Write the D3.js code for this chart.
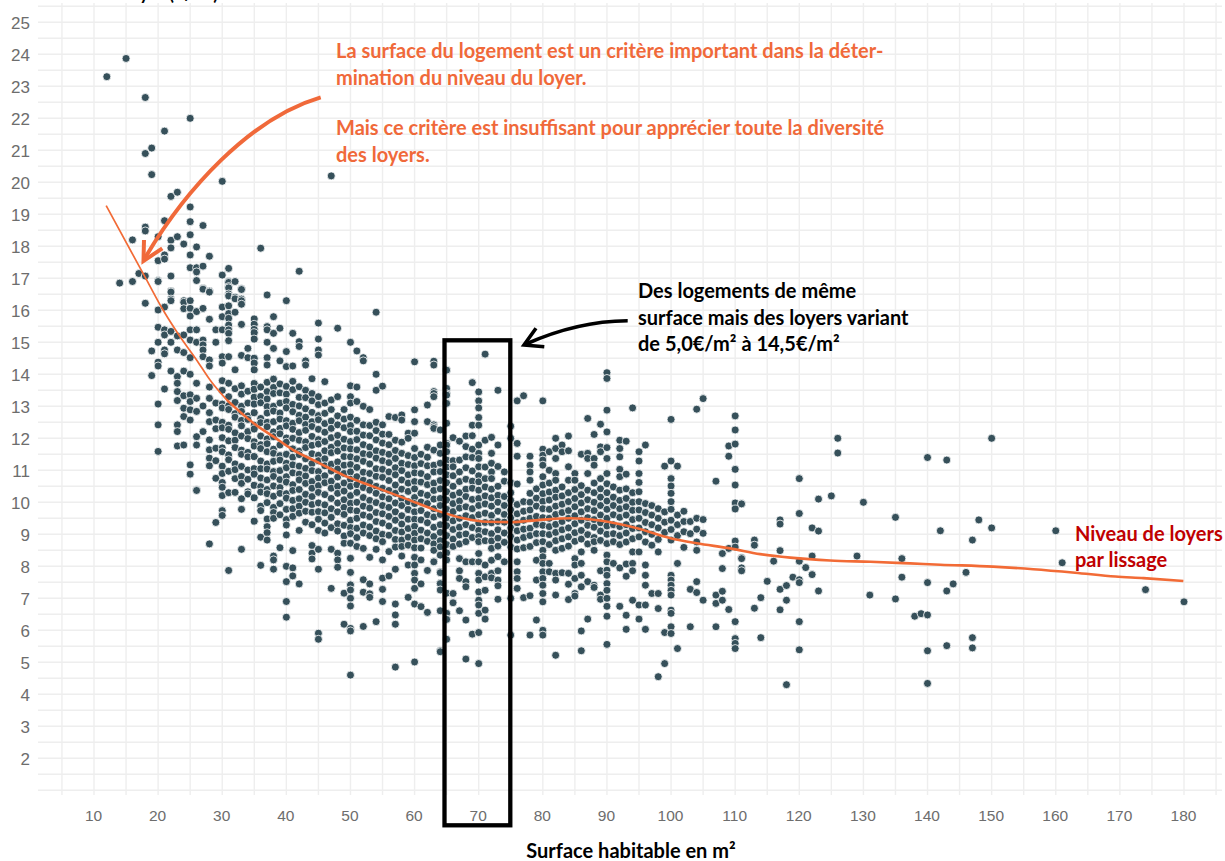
<!DOCTYPE html>
<html><head><meta charset="utf-8">
<script src="https://cdn.jsdelivr.net/npm/d3@7"></script>
<style>html,body{margin:0;padding:0;background:#fff}svg{display:block}</style>
</head><body><svg id="c" width="1225" height="861"></svg>
<script>
const xTickLabels=[10,20,30,40,50,60,70,80,90,100,110,120,130,140,150,160,170,180];
const yTickLabels=[2,3,4,5,6,7,8,9,10,11,12,13,14,15,16,17,18,19,20,21,22,23,24,25];
const xGrid=[5,10,15,20,25,30,35,40,45,50,55,60,65,70,75,80,85,90,95,100,105,110,115,120,125,130,135,140,145,150,155,160,165,170,175,180,185];
const yGrid=[1,1.5,2,2.5,3,3.5,4,4.5,5,5.5,6,6.5,7,7.5,8,8.5,9,9.5,10,10.5,11,11.5,12,12.5,13,13.5,14,14.5,15,15.5,16,16.5,17,17.5,18,18.5,19,19.5,20,20.5,21,21.5,22,22.5,23,23.5,24,24.5,25,25.5];
const surfaces=[12,14,15,16,17,18,19,20,21,22,23,24,25,26,27,28,29,30,31,32,33,34,35,36,37,38,39,40,41,42,43,44,45,46,47,48,49,50,51,52,53,54,55,56,57,58,59,60,61,62,63,64,65,66,67,68,69,70,71,72,73,74,75,76,77,78,79,80,81,82,83,84,85,86,87,88,89,90,91,92,93,94,95,96,97,98,99,100,101,102,103,104,105,107,108,109,110,111,113,114,115,116,117,118,119,120,121,122,123,125,126,129,130,131,135,136,138,139,140,142,143,144,146,147,148,150,160,161,174,180];
const loyers=[
[23.3],[16.85],[23.87],[18.2,16.9],[17.15],[22.65,20.9,18.6,18.48,17.07,16.22],[21.07,20.24,14.73,13.96],
[18.3,17.55,16.93,16.9,16.01,15.47,15.0,14.38,14.26,13.07,12.42,11.59],
[21.6,18.8,17.73,17.6,16.1,15.39,15.23,14.76,14.64,13.54],
[19.56,18.19,17.95,17.07,16.6,16.57,16.35,16.3,15.34,15.0,14.1],
[19.69,18.3,15.2,14.76,13.93,13.72,13.46,13.18,12.42,12.21,11.76],
[18.07,16.3,16.25,16.05,15.23,14.68,14.1,13.33,12.94,12.68,11.79],
[22,19.23,18.77,18.36,17.73,17.33,16.3,16.06,15.82,15.39,15.07,14.52,14,13.36,13.15,12.89,12.57,11.17,10.88],
[17.98,17.33,17.2,16.93,15.96,15.39,15,13.72,13.25,12.84,12.05,11.79,10.39,10.37],
[18.65,17.38,16.69,16.66,16.06,15.07,14.92,14.76,14.55,13.01,12.21],
[17.69,16.6,16.57,15.72,14.45,14.26,13.6,13.25,12.8,12.52,11.95,11.64,11.38,11.14,8.7],
[15.39,15,13.1,12.57,12.3,11.69,11.3,10.75,9.37],
[20.03,17.1,16.1,15.8,15.39,14.55,14.35,13.8,13.5,13.07,12.95,12.5,12.33,12.02,11.7,11.58,11.13,10.9,10.62,10.47,10.21,9.74,9.59],
[17.31,16.9,16.87,16.74,16.7,16.51,16.45,16.14,15.9,15.75,15.54,15.39,15.28,15.05,14.55,13.72,13.3,13.02,12.9,12.41,12.28,11.92,11.48,11.33,10.97,10.3,7.87],
[16.9,16.41,16.36,15.94,14.14,13.55,13.12,12.77,12.66,12.17,11.94,11.71,11.2,11.02,10.74,10.31],
[16.67,16.65,16.35,16.3,16.19,15.56,14.59,13.64,13.38,13,12.84,12.56,12.39,12.07,11.63,11.5,11.12,10.81,10.59,10.11,9.78,8.53],
[14.81,14.52,13.47,13.1,12.7,12.59,12.21,11.99,11.56,11.42,11.01,10.72,10.33,10.26],
[15.73,15.56,15.4,15.3,15.1,14.5,14.35,14.14,13.71,13.53,13.28,13.07,12.8,12.41,12.29,11.89,11.76,11.43,11.05,10.88,10.53,10.14,9.41],
[17.94,13.6,13.31,13.11,12.62,12.49,12.07,11.8,11.68,11.29,11.05,10.76,10.49,10.32,9.88,9.74,8.91,8.03],
[16.48,15.49,15.39,15,14.52,14.29,13.75,13.46,13.23,12.99,12.79,12.5,12.36,11.98,11.83,11.58,11.2,11.04,10.7,10.4,10.27,9.99,9.48,9.24,9.05,8.82],
[15.8,15.28,14.81,13.85,13.59,13.4,13,12.85,12.52,12.2,12.05,11.66,11.53,11.28,10.96,10.81,10.51,10.19,9.84,9.68,9.5,8.32,8.2,7.91],
[15.44,14.42,13.7,13.42,13.1,12.79,12.6,12.31,12.14,11.79,11.46,11.32,10.99,10.71,10.46,10.28,9.96,9.61,8.58],
[16.3,14.71,14.24,13.62,13.38,13.15,12.95,12.55,12.39,12.01,11.88,11.5,11.22,11.08,10.8,10.63,10.27,10.13,9.78,9.46,9.29,8.98,8,7.52,6.9,6.41],
[15.28,14.26,13.78,13.52,13.06,12.83,12.47,12.28,12,11.67,11.41,11.17,10.92,10.55,10.37,10.06,9.8,9.56,8.49,7.95,7.7],
[17.22,15.02,14.87,13.61,13.28,13.01,12.72,12.55,12.18,11.94,11.6,11.49,11.13,10.88,10.7,10.4,10.11,9.88,9.66,9.12,7.45],
[14.42,14.29,13.5,13.27,12.92,12.66,12.43,12.25,11.89,11.71,11.36,11.06,10.82,10.59,10.25,10,9.72,9.38],
[13.86,13.4,13.17,12.81,12.52,12.37,12.06,11.78,11.52,11.21,10.99,10.65,10.44,10.18,9.93,9.69,9.3,8.65,8.41,8.23],
[15.6,15.1,14.76,14.6,13.3,13.05,12.71,12.58,12.28,11.96,11.82,11.47,11.3,10.96,10.76,10.52,10.31,9.98,9.71,9.47,9.12,8.53,7.91,5.91,5.72],
[13.77,13.1,12.78,12.46,12.19,11.9,11.61,11.36,11.14,10.83,10.61,10.24,9.92,9.67,9.35,9.04],
[20.2,13.2,12.9,12.54,12.31,12.02,11.72,11.55,11.19,10.98,10.66,10.44,10.12,9.8,9.53,9.21,8.53,7.31],
[15.44,13.3,12.7,12.42,12.09,11.84,11.6,11.26,11.04,10.79,10.5,10.28,9.98,9.7,9.33,9.1,8.41,8.2,7.97],
[12.9,12.6,12.33,11.97,11.7,11.43,11.16,10.9,10.6,10.35,10.08,9.84,9.62,9.28,8.95,8.72,7.16,6.19],
[15,13.64,13.3,13.1,12.66,12.4,12.21,11.9,11.67,11.42,11.18,10.95,10.72,10.5,10.21,9.97,9.76,9.44,9.21,9.02,8.72,8.25,7.81,7.42,7.26,7,6.76,6.06,5.98,4.6],
[14.73,13.6,13.15,12.56,12.22,11.96,11.64,11.36,11.09,10.8,10.55,10.31,10,9.73,9.5,9.19,8.9,8.62],
[14.52,14.42,13,12.42,12.1,11.8,11.52,11.28,10.94,10.69,10.46,10.15,9.88,9.6,9.29,9.04,8.56,7.58,7.19,6.12],
[12.9,12.4,12.08,11.73,11.49,11.2,10.9,10.62,10.38,10.06,9.82,9.55,9.23,8.96,8.28,7.45,7.14,7.03],
[15.94,14,13.5,12.5,12.24,11.95,11.61,11.38,11.05,10.81,10.5,10.28,9.99,9.68,9.4,9.1,8.86,8.53,6.27],
[13.63,12.42,12.13,11.85,11.56,11.3,11.03,10.78,10.44,10.17,9.9,9.64,9.35,9,8.77,8.2,7.63,7.28,6.9],
[12.68,12.12,11.8,11.5,11.24,10.95,10.68,10.37,10.11,9.84,9.56,9.26,8.97,8.46,7.7],
[12.65,11.94,11.62,11.37,11.08,10.86,10.54,10.28,9.98,9.7,9.44,9.12,8.84,8.6,7.91,6.82,6.48,6.19,4.85],
[12.73,12.57,11.88,11.53,11.22,10.99,10.7,10.41,10.12,9.9,9.58,9.32,9.07,8.82,8.62,8.32],
[12.16,12,11.46,11.18,10.86,10.6,10.34,10.02,9.77,9.47,9.18,8.91,8.66,8.04,7.03],
[14.39,12.89,12.52,12.16,11.68,11.4,11.14,10.92,10.65,10.42,10.15,9.96,9.7,9.47,9.25,9.03,8.82,8.58,8.28,8.04,7.78,7.57,7.31,6.82,5.01],
[11.5,11.21,10.9,10.63,10.28,10.01,9.74,9.45,9.13,8.86,8.57,8.2,7.45,6.74],
[13.04,12.52,11.72,11.41,11.14,10.8,10.55,10.22,9.96,9.61,9.36,9.04,8.78,7.87,6.56],
[14.41,14.29,13.46,13.4,13.3,12.42,12.36,12.31,11.63,11.16,10.95,10.6,10.37,10.1,9.8,9.54,9.22,8.93,8.7,8.5,8.15,8.14],
[12.26,11.79,11.53,11.22,10.96,10.68,10.42,10.12,9.9,9.62,9.3,9.06,8.8,8.61,8.36,8.35,7.83,7.8,7.47,7.46,7.26,6.61,5.36,5.33],
[14.14,14.13,13.56,13.39,13.35,13.1,13.09,12.47,11.84,11.79,11.58,11.32,11.1,10.86,10.61,10.33,10.07,9.78,9.5,9.27,8.96,8.68,8.42,8.2,7.16,6.53,6.35,6.34,5.72],
[12.02,11.3,11.11,10.83,10.5,10.22,9.96,9.71,9.42,9.15,8.85,8.62,7.15,6.87,6.86],
[11.91,11.32,10.95,10.65,10.3,10.04,9.82,9.5,9.22,8.98,8.7,8.24,7.86,7.62,6.61],
[12.07,11.74,11.42,11.08,10.72,10.41,10.18,9.86,9.58,9.3,9.01,8.77,8.14,7.52,7.36,6.32,5.1],
[13.74,12.41,12.08,11.66,11.4,10.98,10.66,10.44,10.09,9.8,9.52,9.21,8.9,8.14,5.88],
[13.45,13.17,12.95,12.65,12.41,11.79,11.53,11.37,11.11,10.83,10.64,10.38,10.12,9.9,9.61,9.35,9.12,8.93,8.77,8.4,8.14,7.78,7.57,7.2,6.94,6.79,6.53,5.93,4.96],
[14.63,11.94,11.1,10.74,10.48,10.2,9.95,9.66,9.37,9.08,8.8,8.04,7.67,7.25,6.63,6.35],
[12.03,11.53,11.22,10.95,10.74,10.41,10.14,9.88,9.59,9.36,9.02,8.79,8.56,8.19,7.78,7.64],
[13.5,11.79,11.12,10.5,10.22,10,9.72,9.4,9.14,8.88,8.63,8.3,7.86,7.57,7.39,6.97],
[10.95,10.66,10.18,9.9,9.62,9.38,9.04,8.75,8.14],
[12.38,12,10.61,10.3,10.06,9.76,9.52,9.2,8.92,8.6,7,5.85],
[13.17,11.84,11.44,10.57,9.93,9.64,9.36,9.11,8.82,8.54,8.14,7.83,7.62,7.31],
[13.33,10.02,9.72,9.44,9.16,8.9,8.58,7.02],
[11.44,11.16,10.95,10.69,10.28,10,9.76,9.5,9.19,8.96,8.62,7.08,5.85],
[10.42,10.13,9.88,9.56,9.31,9.02,8.74,8.19,7.57,6.32],
[13.17,11.66,11.47,11.32,11.16,10.8,10.54,10.27,10.03,9.8,9.52,9.28,9.02,8.77,8.5,8.3,8.09,7.83,7.62,7.41,7.15,6.89,6,5.85],
[11.58,11,10.6,10.32,10.07,9.78,9.5,9.24,8.99,8.68,8.09,7.83],
[12,11.68,11.37,10.9,10.69,10.38,10.16,9.88,9.62,9.31,9.06,8.8,8.5,7.78,7.57,7.1,5.22],
[11.79,11.58,10.48,10.2,9.94,9.68,9.4,9.14,8.86,8.56,7.8],
[12.07,11.61,11.11,10.69,10.3,10.02,9.74,9.5,9.2,8.92,8.63,7.78,7.44,6.96],
[10.9,10.69,10.4,10.12,9.86,9.58,9.33,9.05,8.78,8.24,8.04,7.62,7.15,7.07],
[11.5,10.52,10.24,9.98,9.7,9.44,9.12,8.85,8.45,8.09,7.72,7.36,5.98,5.36],
[12.62,11.53,11.37,10.9,10.38,10.08,9.8,9.52,9.28,8.99,8.7,7.52,6.35],
[12.12,11.37,11.16,10.6,10.3,10,9.74,9.46,9.22,8.9,8.77,8.5,7.41,7.34],
[12.44,11.73,11.58,10.74,10.42,10.16,9.9,9.6,9.36,9.1,8.81,7.86,7.1,6.97],
[14.05,13.87,12.88,12.2,11.71,11.37,10.9,10.58,10.3,10.04,9.78,9.5,9.26,9,8.71,8.35,8.14,7.88,7.72,7.46,7.25,7,6.75,6.44,5.56],
[10.48,10.16,9.9,9.61,9.3,9.02,8.77,8.09],
[11.94,11.68,11.42,11.03,10.8,10.38,10.06,9.8,9.53,9.24,8.96,8.68,7.95,6.75],
[11.91,10.88,10.42,10.12,9.86,9.6,9.3,9.04,8.76,8.07,7.69,6.47,6.03],
[12.95,10.3,10,9.75,9.46,9.18,8.86,8.45,8.09,7.86,6.94],
[11.58,11.29,10.9,10.62,10.33,10.02,9.76,9.5,9.2,8.92,8.45,6.79,6.35],
[11.79,9.96,9.68,9.37,9.08,8.76,8.04,7.72,7.41,6.79,6.03],
[9.9,9.6,9.3,9,8.66,7.15],
[9.8,9.5,9.2,8.84,8.45,7.15,6.68,4.55],
[11.13,9.7,9.38,9.06,5.93,4.96],
[12.59,11.29,10.74,10.51,10.28,10.02,9.78,9.44,9.15,8.82,7.72,7.57,7.41,7.25,7.1,6.63,6.53,6.11,5.9],
[11.13,9.6,9.3,8.96,8.09,5.43],
[9.72,9.4,9.08,8.59],
[9.4,9.02,7.28,6.11],
[12.91,9.5,9.16,8.76,8.5,7.52,7.18],
[13.24,9.46,9.03,6.94],
[10.66,7.1,6.84,6.11],
[8.4,7.93,7.22,6.94],
[11.76,11.44,8.56,6.65],
[12.7,12.26,11.82,11.03,10.54,9.98,9.79,8.79,8.6,6.27,5.74,5.59,5.43],
[9.96,9.95,8.27,8.24,7.95,7.86],
[8.82,8.66,6.69],[7.02,5.77],[7.53],[8.16],[9.45,9.32,8.49,7.28,6.64],[7.4,6.94,4.3],[7.66],
[10.74,9.65,8.16,7.58,7.49,6.27,5.39],[7.96],[9.2,8.32,7.74],[10.1,9.1,7.23],[10.2],[12,11.54],[8.32],[10],[7.1],[9.53,6.98],[8.24,7.66],[6.44],[6.52],
[11.4,7.49,6.48,5.36,4.34],[9.11],[11.32,7.23,5.52],[7.45],[7.81],[8.82,5.77,5.45],[9.45],[12,9.2],[9.11],[8.11],[7.27],[6.89]];
const smoothX=[11.9,18.2,20.8,23.4,26,28.1,30.7,34.9,38,41.1,44.7,48.9,53.6,58.8,63.5,67.6,71.3,74.9,79.6,84.3,88.9,94.7,99.9,104,109.2,113.9,118.6,124.8,131.1,137.3,142,150.2,156.5,163,169.3,173.7,179.9];
const smoothY=[19.27,16.95,16,15.18,14.45,13.82,13.2,12.47,12.05,11.63,11.27,10.85,10.49,10.1,9.74,9.5,9.39,9.38,9.45,9.5,9.43,9.19,8.88,8.72,8.56,8.38,8.27,8.18,8.14,8.09,8.05,7.99,7.91,7.8,7.68,7.63,7.54];

const x=d3.scaleLinear().domain([10,180]).range([94,1184]);
const y=d3.scaleLinear().domain([2,25]).range([758.3,22.3]);
const svg=d3.select('#c');
const LATO='Lato,"Open Sans",sans-serif';

const grid=svg.append('g').attr('stroke','#eeeeee').attr('stroke-width',1.4);
grid.selectAll('line.v').data(xGrid).join('line').attr('class','v')
  .attr('x1',d=>x(d)).attr('x2',d=>x(d)).attr('y1',3).attr('y2',795);
grid.selectAll('line.h').data(yGrid).join('line').attr('class','h')
  .attr('x1',38).attr('x2',1222).attr('y1',d=>y(d)).attr('y2',d=>y(d));

const xAxis=svg.append('g').attr('transform','translate(-1,810)')
  .call(d3.axisBottom(x).tickValues(xTickLabels).tickSize(0).tickPadding(0));
const yAxis=svg.append('g').attr('transform','translate(30,1)')
  .call(d3.axisLeft(y).tickValues(yTickLabels).tickSize(0).tickPadding(0));
[xAxis,yAxis].forEach(a=>{a.select('.domain').remove();
  a.selectAll('text').attr('fill','#6d6d6d').attr('font-family','"Liberation Sans",Arial,sans-serif');});
xAxis.selectAll('text').attr('font-size',15.5);
yAxis.selectAll('text').attr('font-size',17);

const points=surfaces.flatMap((s,i)=>loyers[i].map(v=>({s,v})));
svg.append('g').selectAll('circle').data(points).join('circle')
  .attr('cx',d=>x(d.s)).attr('cy',d=>y(d.v)).attr('r',4)
  .attr('fill','#36505a').attr('stroke','#ffffff').attr('stroke-width',0.8);

const smooth=smoothX.map((s,i)=>({s,v:smoothY[i]}));
const lineGen=d3.line().x(d=>x(d.s)).y(d=>y(d.v)).curve(d3.curveMonotoneX);
svg.append('path').attr('d',lineGen(smooth.slice(0,7))).attr('fill','none').attr('stroke','#f26b36').attr('stroke-width',1.7);
svg.append('path').attr('d',lineGen(smooth.slice(6))).attr('fill','none').attr('stroke','#f26b36').attr('stroke-width',2.6);

svg.append('rect').attr('x',444.5).attr('y',340.3).attr('width',65.8).attr('height',485)
  .attr('fill','none').attr('stroke','#000').attr('stroke-width',4.3);

const orange='#f0693a';
svg.append('path').attr('d','M320.7,97.3 C250,118 185,190 145,258').attr('fill','none').attr('stroke',orange).attr('stroke-width',4);
svg.append('path').attr('d','M144,240 L143.5,261 L162.3,248.3').attr('fill','none').attr('stroke',orange).attr('stroke-width',4);
svg.append('path').attr('d','M627.7,320.7 C590,321 555,331 526,344').attr('fill','none').attr('stroke','#000').attr('stroke-width',3.6);
svg.append('path').attr('d','M536,328.3 L524,345 L544.3,346.7').attr('fill','none').attr('stroke','#000').attr('stroke-width',3.6);

function label(str,px,py,color,size,anchor){
  svg.append('text').text(str).attr('x',px).attr('y',py).attr('fill',color)
    .attr('font-family',LATO).attr('font-weight',700).attr('font-size',size).attr('text-anchor',anchor||'start');
}
label('La surface du logement est un critère important dans la déter-',336,58,orange,20);
label('mination du niveau du loyer.',336,85,orange,20);
label('Mais ce critère est insuffisant pour apprécier toute la diversité',336,135,orange,20);
label('des loyers.',336,162,orange,20);
label('Des logements de même',638,298,'#000',20);
label('surface mais des loyers variant',638,325,'#000',20);
label('de 5,0€/m² à 14,5€/m²',638,351,'#000',20);
label('Niveau de loyers',1075,541,'#c00000',20);
label('par lissage',1075,567,'#c00000',20);
label('Surface habitable en m²',631,858,'#000',20,'middle');
label('Niveau de loyer (€/m²)',40,0,'#000',18);
</script></body></html>
